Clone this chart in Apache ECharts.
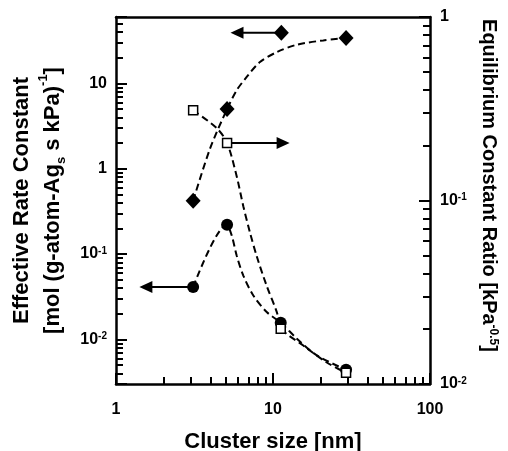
<!DOCTYPE html>
<html>
<head>
<meta charset="utf-8">
<script src="https://cdn.jsdelivr.net/npm/echarts@6/dist/echarts.min.js"></script>
<style>
  html, body { margin: 0; padding: 0; background: #fff; }
  #chart { width: 508px; height: 451px; }
</style>
</head>
<body>
<div id="chart"></div>
<script>
// cluster size [nm]
const sizes = [3.1, 5.1, 11.2, 29.2];

// effective rate constant (left axis)
const rateDiamond = [0.42, 5.0, null, 34];
const rateCircle = [0.041, 0.22, 0.0157, 0.0044];
// equilibrium constant ratio (right axis)
const eqRatio = [0.31, 0.206, 0.020, 0.0115];

// dashed guide curves
const fitDiamondX = [3.1, 3.97, 5.1, 5.87, 6.8, 8.26, 10.6, 14.2, 20.9, 29.2];
const fitDiamondY = [0.42, 1.72, 5.0, 8.3, 11.9, 17.8, 23.3, 28.4, 31.9, 34];
const fitCircleX = [3.1, 5.07, 5.46, 5.87, 6.47, 7.49, 9.12, 11.2, 14.2, 19.0, 29.2];
const fitCircleY = [0.041, 0.22, 0.165, 0.096, 0.056, 0.0327, 0.0209, 0.0157, 0.0102, 0.0065, 0.0044];
const fitSquareX = [3.1, 4.38, 5.1, 5.87, 6.47, 7.14, 7.87, 9.12, 10.6, 11.2, 15.6, 22.0, 29.2];
const fitSquareY = [0.31, 0.248, 0.206, 0.1356, 0.0931, 0.0667, 0.0498, 0.0342, 0.0245, 0.0201, 0.0162, 0.0131, 0.0115];

// arrow annotations: [x, y] start -> end
const arrowDiamond = [[11.3, 39.3], [5.9, 39.3]];
const arrowCircle = [[3.1, 0.041], [1.55, 0.041]];
const arrowSquare = [[5.1, 0.206], [11.6, 0.206]];

// decade tick labels (exponent -> text)
const decadeLabels = { '-2': '10{s|-2}', '-1': '10{s|-1}', '0': '1', '1': '10', '2': '100' };

const FONT = 'Liberation Sans, Arial, sans-serif';

const labelStyle = {
  color: '#000',
  fontFamily: FONT,
  fontWeight: 'bold',
  fontSize: 16,
  hideOverlap: false,
  formatter: function (v) {
    const e = Math.log10(v);
    if (Math.abs(e - Math.round(e)) > 1e-6) return '';
    return decadeLabels[String(Math.round(e))] || '';
  },
  rich: {
    s: { fontFamily: FONT, fontWeight: 'bold', fontSize: 10, verticalAlign: 'top', padding: [0, 0, 6, 0] }
  }
};

function logAxis(extra) {
  return Object.assign({
    type: 'log',
    logBase: 10,
    nameMoveOverlap: false,
    axisLine: { show: true, onZero: false, lineStyle: { color: '#000', width: 2.5 } },
    axisTick: { show: true, inside: true, length: 11, lineStyle: { color: '#000', width: 2 } },
    minorTick: { show: true, splitNumber: 9, length: 7, lineStyle: { color: '#000', width: 2 } },
    splitLine: { show: false },
    minorSplitLine: { show: false },
    axisPointer: { show: false }
  }, extra);
}

const chart = echarts.init(document.getElementById('chart'));

function pairs(xs, ys) {
  return xs.map(function (x, i) { return [x, ys[i]]; }).filter(function (p) { return p[1] != null; });
}

function arrow(points, yIndex, rotate) {
  return {
    type: 'line',
    yAxisIndex: yIndex,
    data: [
      { value: points[0], symbol: 'none' },
      { value: points[1], symbol: 'triangle', symbolSize: [12, 13], symbolRotate: rotate }
    ],
    lineStyle: { color: '#000', width: 2 },
    itemStyle: { color: '#000', opacity: 1 },
    silent: true,
    z: 3
  };
}

function fit(xs, ys, yIndex) {
  return {
    type: 'line', yAxisIndex: yIndex, data: pairs(xs, ys),
    smooth: 0.3, showSymbol: false, symbol: 'none',
    lineStyle: { color: '#000', width: 2, type: [7, 4] }, z: 2
  };
}

const option = {
  animation: false,
  grid: {
    left: 116, right: 78, top: 17, bottom: 67,
    outerBoundsMode: 'none'
  },
  xAxis: [
    logAxis({
      min: 1, max: 100, position: 'bottom',
      name: 'Cluster size [nm]', nameLocation: 'middle', nameGap: 47,
      nameTextStyle: { color: '#000', fontFamily: FONT, fontWeight: 'bold', fontSize: 22 },
      axisLabel: Object.assign({ margin: 18 }, labelStyle)
    }),
    // top frame line
    logAxis({
      min: 1, max: 100, position: 'top',
      axisTick: { show: false }, minorTick: { show: false }, axisLabel: { show: false }
    })
  ],
  yAxis: [
    logAxis({
      min: 0.003, max: 60, position: 'left',
      name: 'Effective Rate Constant\n[mol (g-atom-Ag{sub|s} s kPa){sup|-1}]',
      nameLocation: 'middle', nameGap: 48, nameRotate: 90,
      nameTextStyle: {
        color: '#000', fontFamily: FONT, fontWeight: 'bold', fontSize: 22, lineHeight: 31,
        rich: {
          sub: { fontFamily: FONT, fontWeight: 'bold', fontSize: 13, verticalAlign: 'bottom', lineHeight: 31 },
          sup: { fontFamily: FONT, fontWeight: 'bold', fontSize: 13, verticalAlign: 'top', lineHeight: 31 }
        }
      },
      axisLabel: Object.assign({ margin: 9 }, labelStyle)
    }),
    logAxis({
      min: 0.003, max: 60, position: 'left', show: false
    }),
    logAxis({
      min: 0.01, max: 1, position: 'right',
      name: 'Equilibrium Constant Ratio [kPa{sup|-0.5}]',
      nameLocation: 'middle', nameGap: 49, nameRotate: -90,
      nameTextStyle: {
        color: '#000', fontFamily: FONT, fontWeight: 'bold', fontSize: 20,
        padding: [0, 30, 0, 0],
        rich: {
          sup: { fontFamily: FONT, fontWeight: 'bold', fontSize: 12, verticalAlign: 'top' }
        }
      },
      axisLabel: Object.assign({ margin: 10 }, labelStyle)
    })
  ],
  series: [
    fit(fitDiamondX, fitDiamondY, 0),
    fit(fitCircleX, fitCircleY, 0),
    fit(fitSquareX, fitSquareY, 2),
    arrow(arrowDiamond, 0, 90),
    arrow(arrowCircle, 0, 90),
    arrow(arrowSquare, 2, -90),
    {
      type: 'scatter', yAxisIndex: 0,
      data: pairs(sizes, rateDiamond).concat([arrowDiamond[0]]),
      symbol: 'diamond', symbolSize: [15, 16],
      itemStyle: { color: '#000', opacity: 1 }, z: 5
    },
    {
      type: 'scatter', yAxisIndex: 0,
      data: pairs(sizes, rateCircle),
      symbol: 'circle', symbolSize: 12,
      itemStyle: { color: '#000', opacity: 1 }, z: 5
    },
    {
      type: 'scatter', yAxisIndex: 2,
      data: pairs(sizes, eqRatio),
      symbol: 'rect', symbolSize: 9,
      itemStyle: { color: '#fff', borderColor: '#000', borderWidth: 1.5, opacity: 1 }, z: 6
    }
  ]
};

chart.setOption(option);
</script>
</body>
</html>
